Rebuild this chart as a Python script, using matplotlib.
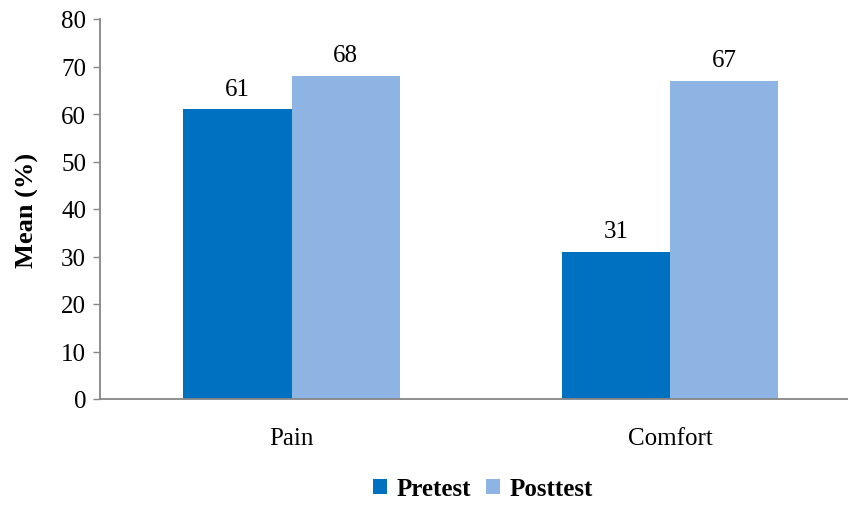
import matplotlib.pyplot as plt
import numpy as np

plt.rcParams["font.family"] = ["Liberation Serif", "DejaVu Serif"]

categories = ["Pain", "Comfort"]
pretest = [61, 31]
posttest = [68, 67]
series_names = ["Pretest", "Posttest"]
colors = ["#0070c0", "#8eb4e3"]

fig = plt.figure(figsize=(8.48, 5.06), dpi=100)
ax = fig.add_axes([100 / 848, 1 - 400 / 506, 748 / 848, 380 / 506])

x = np.arange(len(categories))
w = 0.286
bars_pre = ax.bar(x - w / 2, pretest, w, color=colors[0], label=series_names[0])
bars_post = ax.bar(x + w / 2, posttest, w, color=colors[1], label=series_names[1])

for bars, vals in [(bars_pre, pretest), (bars_post, posttest)]:
    for b, v in zip(bars, vals):
        ax.text(b.get_x() + b.get_width() / 2, v + 2.0, f"{v}",
                ha="center", va="bottom", fontsize=18)

ax.set_ylim(0, 80)
ax.set_yticks(range(0, 81, 10))
ax.set_xlim(-0.506, 1.47)
ax.set_xticks(x)
ax.set_xticklabels(categories)
ax.tick_params(axis="x", length=0, pad=20, labelsize=18)
ax.tick_params(axis="y", length=5, width=1, color="#868686", pad=5, labelsize=18)
for side in ["top", "right"]:
    ax.spines[side].set_visible(False)
for side in ["left", "bottom"]:
    ax.spines[side].set_color("#868686")
    ax.spines[side].set_linewidth(1.3)
ax.set_ylabel("Mean (%)", fontsize=19, fontweight="bold", labelpad=16)

leg = fig.legend(loc="center", bbox_to_anchor=(483 / 848, 1 - 490 / 506), ncol=2,
                 frameon=False, prop={"weight": "bold", "size": 18},
                 handlelength=0.55, handleheight=0.55, handletextpad=0.4, columnspacing=0.6)

fig.savefig("out.png", dpi=100)
